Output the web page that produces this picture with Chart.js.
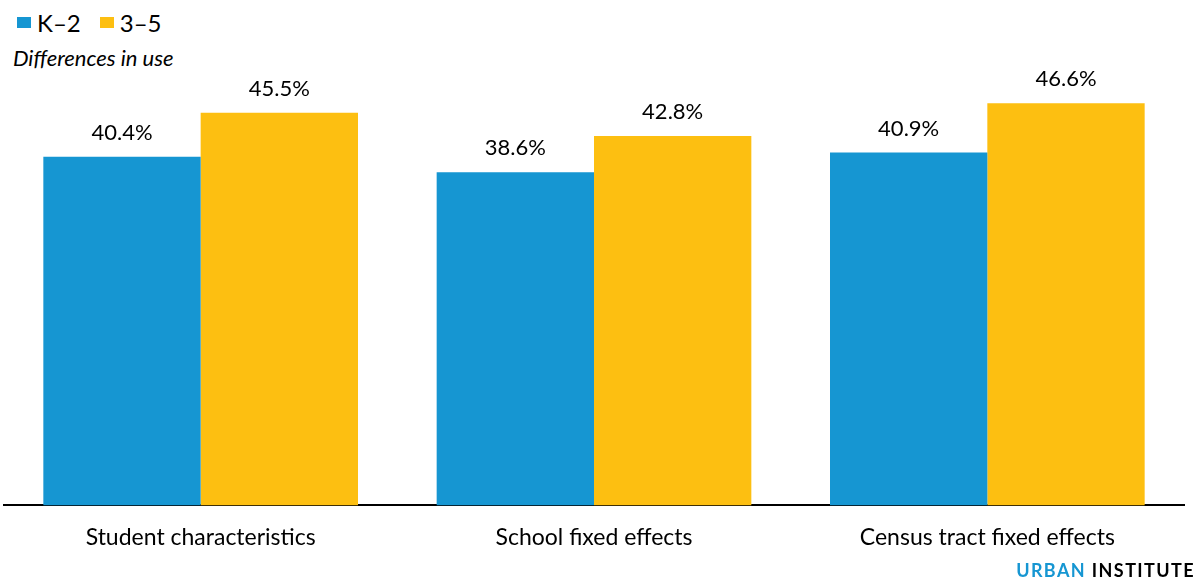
<!DOCTYPE html>
<html>
<head>
<meta charset="utf-8">
<script src="https://cdn.jsdelivr.net/npm/chart.js@4/dist/chart.umd.min.js"></script>
<style>
  html, body { margin: 0; padding: 0; background: #fff; }
  body { width: 1198px; height: 582px; position: relative; overflow: hidden; font-family: Lato, sans-serif; }
  #c { position: absolute; left: 0; top: 0; }
  .legend { position: absolute; top: 8px; left: 17px; font-size: 24px; line-height: 29px; color: #000; display: flex; align-items: center; }
  .legend .item { display: flex; align-items: center; margin-right: 19px; }
  .legend .sw { width: 14px; height: 11px; margin-right: 6px; }
  .sub { position: absolute; left: 13px; top: 44px; font-size: 22px; font-style: italic; color: #000; }
  .logo { position: absolute; right: 3px; top: 559px; font-size: 18px; font-weight: 700; letter-spacing: 1.4px; color: #000; }
  .logo span { color: #1696d2; }
</style>
</head>
<body>
<div class="legend" id="legend"></div>
<div class="sub">Differences in use</div>
<canvas id="c" width="1198" height="582"></canvas>
<div class="logo"><span>URBAN</span> INSTITUTE</div>
<script>
const categories = ["Student characteristics", "School fixed effects", "Census tract fixed effects"];
const seriesNames = ["K\u20132", "3\u20135"];
const k2Values = [40.4, 38.6, 40.9];
const g35Values = [45.5, 42.8, 46.6];
const colors = ["#1696d2", "#fdbf11"];

const leg = document.getElementById('legend');
seriesNames.forEach((n, i) => {
  const it = document.createElement('div'); it.className = 'item';
  const sw = document.createElement('div'); sw.className = 'sw'; sw.style.background = colors[i];
  const t = document.createElement('span'); t.textContent = n;
  it.appendChild(sw); it.appendChild(t); leg.appendChild(it);
});

const valueLabels = {
  id: 'valueLabels',
  afterDatasetsDraw(chart) {
    const ctx = chart.ctx;
    ctx.save();
    ctx.font = '22px Lato, sans-serif';
    ctx.fillStyle = '#000';
    ctx.textAlign = 'center';
    ctx.textBaseline = 'alphabetic';
    chart.data.datasets.forEach((ds, di) => {
      chart.getDatasetMeta(di).data.forEach((bar, i) => {
        ctx.fillText(ds.data[i].toFixed(1) + '%', bar.x, bar.y - 17);
      });
    });
    ctx.restore();
  }
};

new Chart(document.getElementById('c'), {
  type: 'bar',
  data: {
    labels: categories,
    datasets: [
      { label: seriesNames[0], data: k2Values, backgroundColor: colors[0], borderWidth: 0 },
      { label: seriesNames[1], data: g35Values, backgroundColor: colors[1], borderWidth: 0 }
    ]
  },
  options: {
    responsive: false,
    animation: false,
    layout: { padding: { top: 74, left: 4, right: 14, bottom: 13 } },
    plugins: { legend: { display: false }, tooltip: { enabled: false } },
    datasets: { bar: { categoryPercentage: 0.8, barPercentage: 1.0 } },
    scales: {
      x: {
        grid: { display: false, drawTicks: false },
        border: { display: true, color: '#000', width: 2 },
        ticks: { padding: 18, color: '#000', font: { family: 'Lato', size: 23 } }
      },
      y: {
        display: false,
        min: 0, max: 50
      }
    }
  },
  plugins: [valueLabels]
});
</script>
</body>
</html>
